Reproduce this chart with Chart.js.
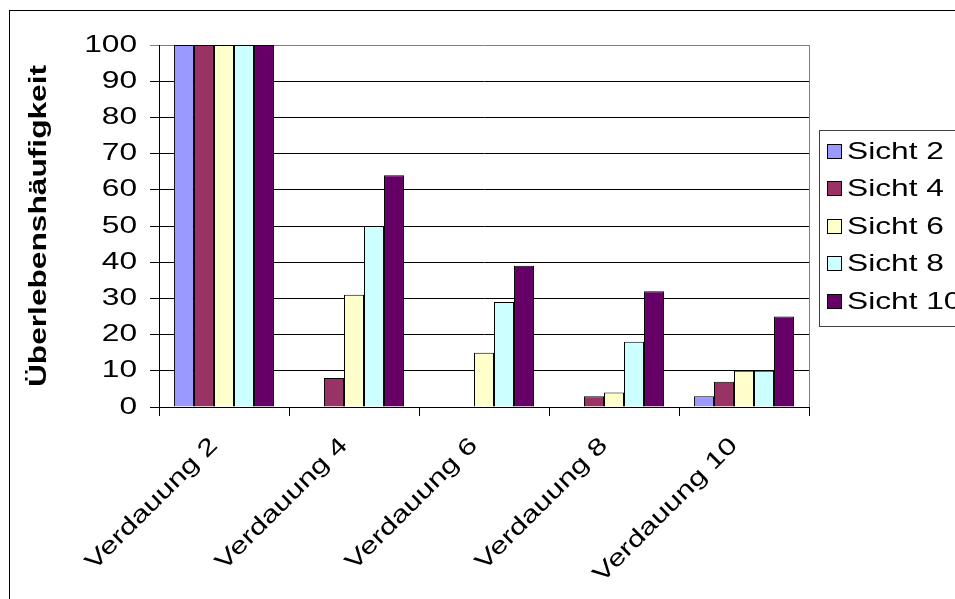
<!DOCTYPE html>
<html>
<head>
<meta charset="utf-8">
<script src="https://cdn.jsdelivr.net/npm/chart.js@4/dist/chart.umd.min.js"></script>
<style>
  html, body { margin: 0; padding: 0; background: #fff; overflow: hidden; width: 955px; height: 599px; }
  canvas { display: block; }
</style>
</head>
<body>
<canvas id="chart" width="1000" height="640"></canvas>
<script>
// Categories (Verdauung) and one value array per series (Sicht)
const categories = ['Verdauung 2', 'Verdauung 4', 'Verdauung 6', 'Verdauung 8', 'Verdauung 10'];
const seriesNames = ['Sicht 2', 'Sicht 4', 'Sicht 6', 'Sicht 8', 'Sicht 10'];
const sicht2  = [100, 0, 0, 0, 3];
const sicht4  = [100, 8, 0, 3, 7];
const sicht6  = [100, 31, 15, 4, 10];
const sicht8  = [100, 50, 29, 18, 10];
const sicht10 = [100, 64, 39, 32, 25];
const yTicks = [0, 10, 20, 30, 40, 50, 60, 70, 80, 90, 100];
const yTitle = 'Überlebenshäufigkeit';

const seriesValues = [sicht2, sicht4, sicht6, sicht8, sicht10];
const seriesColors = ['#9999FF', '#993366', '#FFFFCC', '#CCFFFF', '#660066'];

const FONT = '"Liberation Sans", Arial, Helvetica, sans-serif';
const WIDE = 1.32; // wide lettering: glyphs stretched along the writing direction

const canvas = document.getElementById('chart');
const ctx = canvas.getContext('2d');
const nativeFill = CanvasRenderingContext2D.prototype.fillText;
ctx.fillText = function (text, x, y) {
  this.save();
  this.translate(x, y);
  this.scale(WIDE, 1);
  nativeFill.call(this, text, 0, 0);
  this.restore();
};

// Outer frame around the whole chart, grey right edge of the plot area
const framePlugin = {
  id: 'frame',
  beforeDraw(chart) {
    const c = chart.ctx;
    c.save();
    c.fillStyle = '#fff';
    c.fillRect(0, 0, chart.width, chart.height);
    c.strokeStyle = '#000';
    c.lineWidth = 1;
    c.strokeRect(9.5, 10.5, chart.width + 20, chart.height + 20);
    c.restore();
  },
  afterDraw(chart) {
    const a = chart.chartArea;
    const c = chart.ctx;
    c.save();
    c.strokeStyle = '#808080';
    c.lineWidth = 1;
    c.beginPath();
    c.moveTo(Math.round(a.right) + 0.5, a.top);
    c.lineTo(Math.round(a.right) + 0.5, a.bottom);
    c.stroke();
    c.restore();
  }
};

// Boxed legend to the right of the plot
const boxLegend = {
  id: 'boxLegend',
  afterDraw(chart) {
    const a = chart.chartArea;
    const c = chart.ctx;
    const sets = chart.data.datasets;
    const rowH = 37.5;
    const mid = (a.top + a.bottom) / 2;
    const left = Math.round(a.right) + 10;
    const top = Math.round(mid - sets.length * rowH / 2 - 2);
    const h = Math.round(sets.length * rowH + 8);
    c.save();
    c.strokeStyle = '#404040';
    c.lineWidth = 1;
    c.strokeRect(left + 0.5, top + 0.5, chart.width, h);
    c.font = '24px ' + FONT;
    c.textBaseline = 'middle';
    c.textAlign = 'left';
    sets.forEach((ds, i) => {
      const cy = mid + (i - (sets.length - 1) / 2) * rowH;
      const sq = 15;
      const sx = left + 8;
      const sy = Math.round(cy - sq / 2);
      c.fillStyle = ds.backgroundColor;
      c.fillRect(sx, sy, sq, sq);
      c.strokeStyle = '#000';
      c.strokeRect(sx + 0.5, sy + 0.5, sq - 1, sq - 1);
      c.fillStyle = '#000';
      c.fillText(ds.label, left + 28, cy + 1);
    });
    c.restore();
  }
};

new Chart(ctx, {
  type: 'bar',
  data: {
    labels: categories,
    datasets: seriesNames.map((name, i) => ({
      label: name,
      data: seriesValues[i],
      backgroundColor: seriesColors[i],
      borderColor: '#000',
      borderWidth: 1,
      categoryPercentage: 0.77,
      barPercentage: 1.0
    }))
  },
  options: {
    responsive: false,
    devicePixelRatio: 1,
    animation: false,
    layout: { padding: { left: 0, top: 45, right: 191, bottom: 0 } },
    plugins: {
      legend: { display: false },
      tooltip: { enabled: false }
    },
    scales: {
      x: {
        grid: { offset: true, drawOnChartArea: false, drawTicks: true, tickLength: 9, color: '#000' },
        border: { display: true, color: '#000' },
        ticks: {
          autoSkip: false, maxRotation: 45, minRotation: 45, padding: 16, labelOffset: -10, color: '#000',
          font: { family: FONT, size: 23.5 }
        },
        afterFit(s) { s.height = 233; }
      },
      y: {
        min: 0, max: 100,
        afterBuildTicks(s) { s.ticks = yTicks.map(v => ({ value: v })); },
        ticks: { padding: 13, color: '#000', font: { family: FONT, size: 24 } },
        grid: {
          color: c => (c.tick && c.tick.value === 100 ? '#808080' : '#000'),
          drawTicks: true, tickLength: 9
        },
        border: { display: true, color: '#000' },
        title: {
          display: true, text: yTitle, color: '#000',
          font: { family: FONT, size: 24, weight: 'bold', lineHeight: 1.2 },
          padding: { top: 25, bottom: 0 }
        },
        afterFit(s) { s.width = 159; }
      }
    }
  },
  plugins: [framePlugin, boxLegend]
});
</script>
</body>
</html>
